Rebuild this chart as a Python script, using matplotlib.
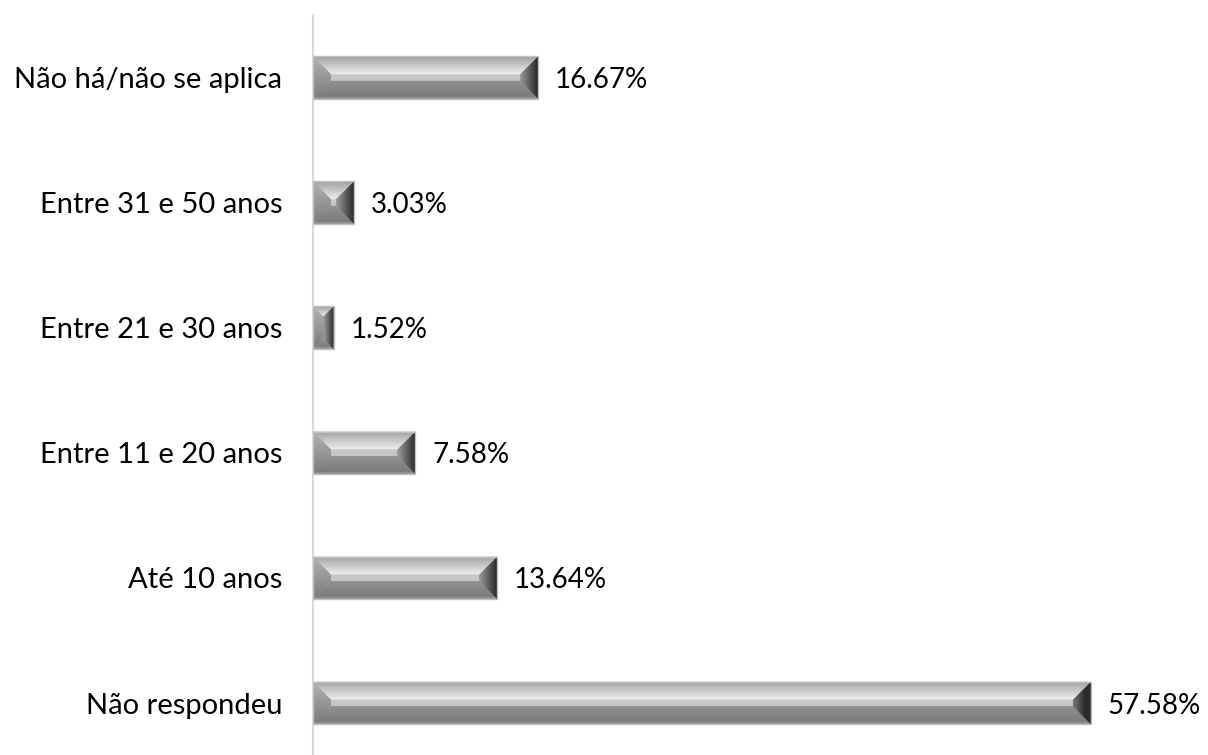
import numpy as np
import matplotlib
matplotlib.use("Agg")
import matplotlib.pyplot as plt
from matplotlib.patches import Polygon, Rectangle

categories = ["Não respondeu", "Até 10 anos", "Entre 11 e 20 anos",
              "Entre 21 e 30 anos", "Entre 31 e 50 anos", "Não há/não se aplica"]
values = [57.58, 13.64, 7.58, 1.52, 3.03, 16.67]
value_labels = ["57.58%", "13.64%", "7.58%", "1.52%", "3.03%", "16.67%"]

plt.rcParams['font.family'] = ['Lato', 'DejaVu Sans']

W, H = 1208, 755
fig = plt.figure(figsize=(W / 100, H / 100), dpi=100)
ax_left, ax_right = 313, 1123.6
ax_top, ax_bot = 15, 765.6
ax = fig.add_axes([ax_left / W, 1 - ax_bot / H, (ax_right - ax_left) / W, (ax_bot - ax_top) / H])

XMAX = 60.0
ypos = np.arange(len(categories))
bars = ax.barh(ypos, values, height=0.34, color="#a6a6a6", edgecolor="none", zorder=2)

px_x = (ax_right - ax_left) / XMAX
px_y = (ax_bot - ax_top) / 6.0
BEV = 18.0


def face(poly, extent, arr):
    im = ax.imshow(arr, extent=extent, origin="lower", cmap="gray", vmin=0, vmax=1,
                   aspect="auto", interpolation="bilinear", zorder=3)
    clip = Polygon(poly, closed=True, transform=ax.transData)
    im.set_clip_path(clip)


for b in bars:
    x0, y0, w, h = b.get_x(), b.get_y(), b.get_width(), b.get_height()
    x1, y1 = x0 + w, y0 + h
    wpx, hpx = w * px_x, h * px_y
    bpx = min(BEV, wpx / 2, hpx / 2)
    bx, by = bpx / px_x, bpx / px_y
    ix0, ix1, iy0, iy1 = x0 + bx, x1 - bx, y0 + by, y1 - by
    ext = (x0, x1, y0, y1)
    n = 64
    t = np.linspace(0, 1, n)  # bottom -> top
    center = (0.70 + 0.16 * t).reshape(n, 1)
    if ix1 > ix0 and iy1 > iy0:
        face([(ix0, iy0), (ix1, iy0), (ix1, iy1), (ix0, iy1)], ext, center)
    tb = np.clip(np.where(t < 1 - by / h, 0.93, 0.93 - (t - (1 - by / h)) / (by / h) * 0.30), 0, 1)
    face([(x0, y1), (x1, y1), (ix1, iy1), (ix0, iy1)], ext, tb.reshape(n, 1))
    bb = np.where(t > by / h, 0.55, 0.47 + 0.1 * (t / (by / h)))
    bb[:3] = 0.58
    face([(x0, y0), (x1, y0), (ix1, iy0), (ix0, iy0)], ext, bb.reshape(n, 1))
    lb = (0.48 + 0.22 * t).reshape(n, 1)
    face([(x0, y0), (ix0, iy0), (ix0, iy1), (x0, y1)], ext, lb)
    s = np.linspace(0, 1, n)
    xfrac_in = (ix1 - x0) / w
    rb = np.where(s < xfrac_in, 0.6, 0.62 - (s - xfrac_in) / max(1 - xfrac_in, 1e-6) * 0.45)
    face([(x1, y0), (ix1, iy0), (ix1, iy1), (x1, y1)], ext, rb.reshape(1, n))
    ax.add_patch(Rectangle((x0, y0), w, h, fill=False, edgecolor="#bfbfbf", linewidth=1.0, zorder=4))

for v, yy, lab in zip(values, ypos, value_labels):
    ax.annotate(lab, xy=(v, yy), xytext=(12, 0), textcoords="offset points",
                ha="left", va="center_baseline", fontsize=20, color="#000000", annotation_clip=False)

ax.set_xlim(0, XMAX)
ax.set_ylim(-0.5, 5.5)
ax.set_yticks(ypos)
ax.set_yticklabels(categories, fontsize=21, color="#000000")
ax.tick_params(axis="y", length=0, pad=22)
ax.set_xticks([])
for side in ["top", "right", "bottom"]:
    ax.spines[side].set_visible(False)
ax.spines["left"].set_color("#d9d9d9")
ax.spines["left"].set_linewidth(1.5)
ax.set_facecolor("white")
fig.patch.set_facecolor("white")

fig.savefig("out.png", dpi=100)
